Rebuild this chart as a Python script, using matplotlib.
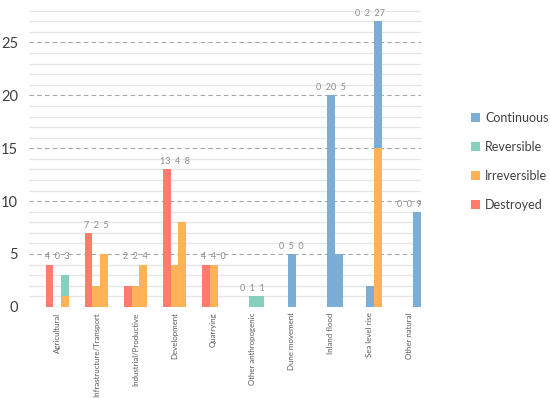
import matplotlib
matplotlib.use('Agg')
import matplotlib.pyplot as plt
import numpy as np

plt.rcParams['font.family'] = ['Lato', 'DejaVu Sans']

categories = ['Agricultural', 'Infrastructure/Transport', 'Industrial/Productive',
              'Development', 'Quarrying', 'Other anthropogenic', 'Dune movement',
              'Inland flood', 'Sea level rise', 'Other natural']

# three bars per category, each a stack of (Destroyed, Irreversible, Reversible, Continuous)
destroyed = [[4, 7, 2, 13, 4, 0, 0, 0, 0, 0],
             [0, 0, 0, 0, 0, 0, 0, 0, 0, 0],
             [0, 0, 0, 0, 0, 0, 0, 0, 0, 0]]
irreversible = [[0, 0, 0, 0, 0, 0, 0, 0, 0, 0],
                [0, 2, 2, 4, 4, 0, 0, 0, 0, 0],
                [1, 5, 4, 8, 0, 0, 0, 0, 15, 0]]
reversible = [[0, 0, 0, 0, 0, 0, 0, 0, 0, 0],
              [0, 0, 0, 0, 0, 1, 0, 0, 0, 0],
              [2, 0, 0, 0, 0, 1, 0, 0, 0, 0]]
continuous = [[0, 0, 0, 0, 0, 0, 0, 0, 0, 0],
              [0, 0, 0, 0, 0, 0, 5, 20, 2, 0],
              [0, 0, 0, 0, 0, 0, 0, 5, 12, 9]]

series = [('Destroyed', destroyed, '#FF7B6B'),
          ('Irreversible', irreversible, '#FFB256'),
          ('Reversible', reversible, '#87D0C0'),
          ('Continuous', continuous, '#7BAED6')]

fig = plt.figure(figsize=(5.5, 3.98), dpi=100)
ax = fig.add_axes([0.053, 0.229, 0.712, 0.744])

x = np.arange(len(categories))
w = 0.2
handles = {}
totals = np.zeros((3, len(categories)))
for k in range(3):
    bottom = np.zeros(len(categories))
    for name, vals, col in series:
        v = np.array(vals[k], dtype=float)
        b = ax.bar(x + (k - 1) * w, v, w, bottom=bottom, color=col, linewidth=0, zorder=3)
        handles[name] = b
        bottom += v
    totals[k] = bottom

for i in range(len(categories)):
    t = totals[:, i].astype(int)
    ax.text(x[i], totals[:, i].max() + 0.3, '%d  %d  %d' % tuple(t), ha='center', va='bottom',
            fontsize=6.5, color='#8c8c8c')

ax.set_xlim(-0.72, 9.3)
ax.set_ylim(0, 28)
ax.set_yticks([0, 5, 10, 15, 20, 25])
for y in range(1, 29):
    if y % 5:
        ax.axhline(y, color='#e6e6e6', lw=1, zorder=1)
for y in range(0, 26, 5):
    ax.axhline(y, color='#a6a6a6', lw=0.8, ls=(0, (4, 3)), zorder=1)

ax.set_xticks(x)
ax.set_xticklabels(categories, rotation=90, fontsize=5.7, color='#595959')
ax.tick_params(axis='both', length=0)
ax.tick_params(axis='y', labelsize=10.5, colors='#404040', pad=8)
ax.tick_params(axis='x', pad=4)
for s in ax.spines.values():
    s.set_visible(False)

order = ['Continuous', 'Reversible', 'Irreversible', 'Destroyed']
fig.legend([handles[n] for n in order], order, loc='center left',
           bbox_to_anchor=(0.856, 0.595), frameon=False, fontsize=9,
           labelcolor='#404040', handlelength=0.75, handleheight=0.75,
           handletextpad=0.4, labelspacing=1.35, borderaxespad=0, borderpad=0)

fig.savefig('out.png', dpi=100)
